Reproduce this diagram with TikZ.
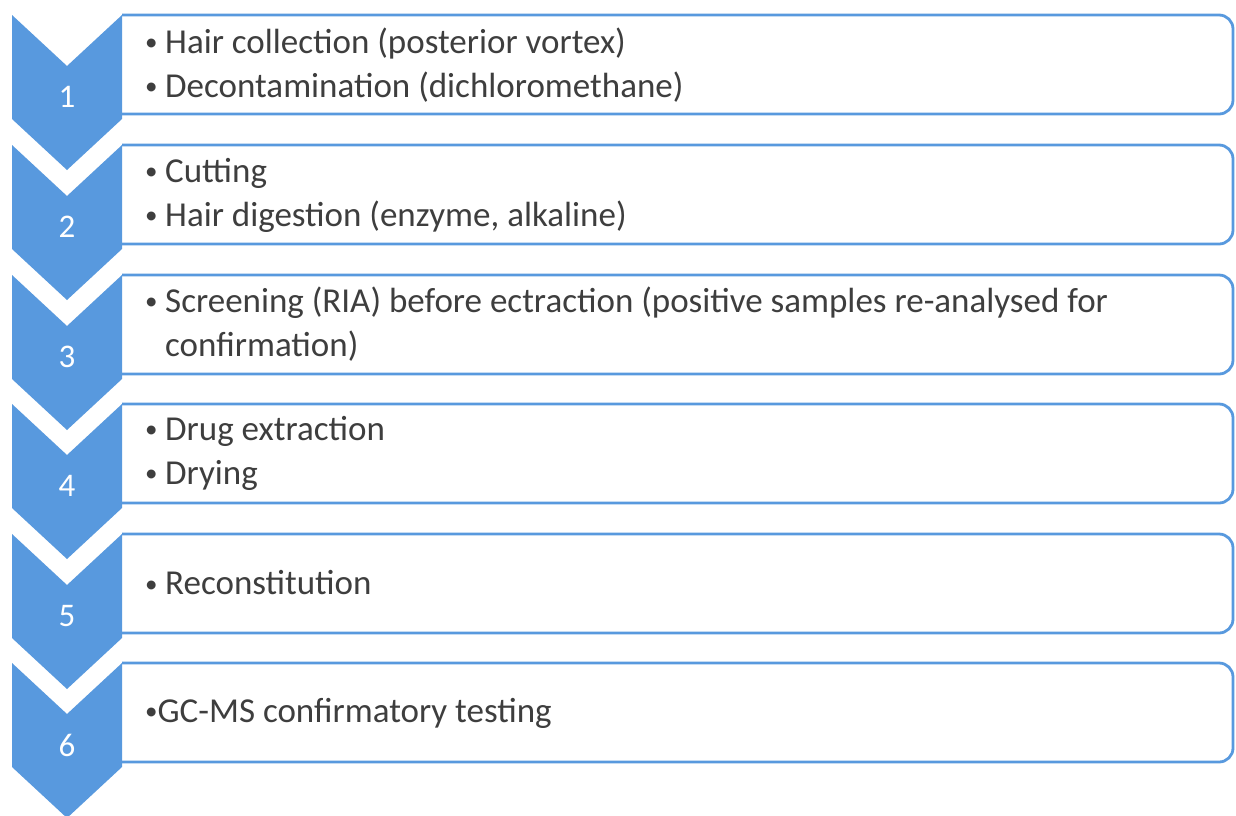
\documentclass[tikz,border=0pt]{standalone}
\usepackage{fontspec}
\setmainfont{Carlito}
\definecolor{stepblue}{RGB}{88,153,222}
\definecolor{txtgray}{RGB}{62,62,62}
\newcommand{\dotmark}{\raisebox{2.5pt}{\fontsize{25}{25}\selectfont •}}
\newcommand{\bul}{\makebox[20pt][l]{\dotmark}}
\tikzset{
  chev/.style={fill=stepblue, draw=none},
  boxline/.style={draw=stepblue, line width=2.8pt, fill=white, rounded corners=14pt},
  numlbl/.style={text=white, font=\fontsize{33}{35}\selectfont, inner sep=0pt},
  itemtxt/.style={text=txtgray, font=\fontsize{35}{44}\selectfont, anchor=west, align=left, inner sep=0pt},
}
\begin{document}
\begin{tikzpicture}[x=1pt,y=-1pt]
\useasboundingbox[fill=white] (0,0) rectangle (1236,815);
\foreach \i/\t in {1/15,2/145,3/275,4/404,5/534,6/663}{
  \path[boxline] (122,\t) -- (1233,\t) -- (1233,\t+99) -- (122,\t+99);
  \fill[chev] (12,\t) -- (67,\t+51) -- (122,\t) -- (122,\t+104) -- (67,\t+155) -- (12,\t+104) -- cycle;
  \node[numlbl] (n\i) at (67,\t+82) {\i};
}
\node[itemtxt] (t1) at (145,65) {\bul Hair collection (posterior vortex)\\\bul Decontamination (dichloromethane)};
\node[itemtxt] (t2) at (145,195) {\bul Cutting\\\bul Hair digestion (enzyme, alkaline)};
\node[itemtxt] (t3) at (145,324) {\bul Screening (RIA) before ectraction (positive samples re-analysed for\\\hspace*{20pt}confirmation)};
\node[itemtxt] (t4) at (145,453) {\bul Drug extraction\\\bul Drying};
\node[itemtxt] (t5) at (145,583) {\bul Reconstitution};
\node[itemtxt] (t6) at (145,713) {\dotmark GC-MS confirmatory testing};
\end{tikzpicture}
\end{document}
